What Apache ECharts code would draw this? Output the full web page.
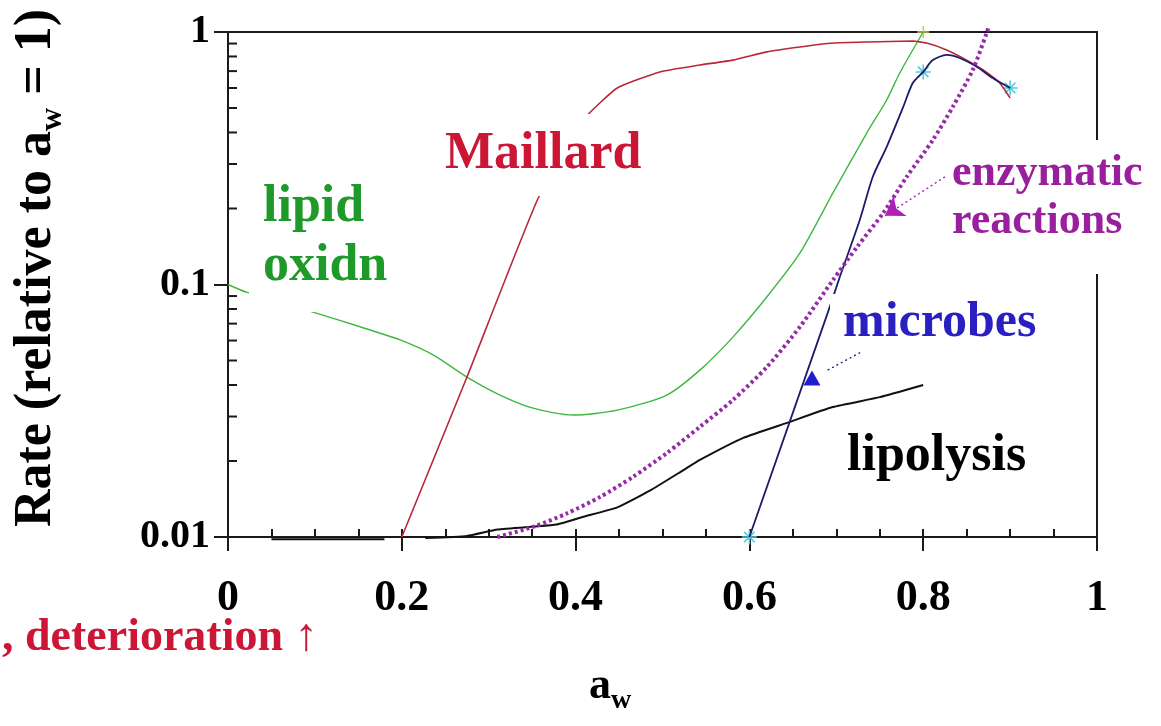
<!DOCTYPE html>
<html><head><meta charset="utf-8">
<script src="https://cdn.jsdelivr.net/npm/echarts@6/dist/echarts.min.js"></script>
<style>html,body{margin:0;padding:0;background:#fff}#c{width:1161px;height:726px}</style>
</head><body><div id="c"></div>
<script>
// ---- data ----
const xTickLabels = ['0', '0.2', '0.4', '0.6', '0.8', '1'];
const yTickLabels = ['0.01', '0.1', '1'];
const yMinorTicks = [0.02, 0.03, 0.04, 0.05, 0.06, 0.07, 0.08, 0.09, 0.2, 0.3, 0.4, 0.5, 0.6, 0.7, 0.8, 0.9];

const maillardX = [0.2, 0.275, 0.357, 0.411, 0.448, 0.497, 0.543, 0.581, 0.620, 0.658, 0.696, 0.735, 0.788, 0.804, 0.827, 0.850, 0.869, 0.888, 0.9];
const maillardY = [0.01, 0.043, 0.22, 0.457, 0.6, 0.695, 0.74, 0.774, 0.834, 0.872, 0.904, 0.913, 0.921, 0.904, 0.849, 0.774, 0.707, 0.628, 0.548];

const lipidX = [0, 0.022, 0.094, 0.152, 0.198, 0.236, 0.275, 0.313, 0.351, 0.397, 0.448, 0.505, 0.543, 0.581, 0.620, 0.658, 0.696, 0.735, 0.758, 0.773, 0.8];
const lipidY = [0.1, 0.093, 0.0785, 0.068, 0.0603, 0.0526, 0.043, 0.0365, 0.0324, 0.0304, 0.0318, 0.0365, 0.0458, 0.0619, 0.0892, 0.133, 0.23, 0.398, 0.538, 0.688, 1.0];

const lipolysisX = [0.05, 0.18, 0.2, 0.227, 0.275, 0.31, 0.352, 0.378, 0.408, 0.448, 0.486, 0.524, 0.543, 0.593, 0.643, 0.696, 0.75, 0.8];
const lipolysisY = [0.0098, 0.0098, null, 0.0099, 0.0101, 0.0107, 0.011, 0.0112, 0.012, 0.0131, 0.0153, 0.0184, 0.0202, 0.0247, 0.0283, 0.0327, 0.0358, 0.04];

const microbesX = [0.6, 0.69, 0.704, 0.727, 0.742, 0.758, 0.777, 0.788, 0.8, 0.811, 0.827, 0.842, 0.862, 0.88, 0.9];
const microbesY = [0.01, 0.077, 0.107, 0.18, 0.267, 0.351, 0.505, 0.628, 0.695, 0.774, 0.811, 0.789, 0.727, 0.657, 0.6];

const enzymeX = [0.31, 0.352, 0.39, 0.428, 0.466, 0.505, 0.543, 0.581, 0.620, 0.658, 0.696, 0.724, 0.754, 0.781, 0.811, 0.834, 0.857, 0.873, 0.875];
const enzymeY = [0.01, 0.011, 0.0124, 0.0144, 0.0173, 0.0215, 0.0273, 0.0349, 0.0471, 0.0679, 0.104, 0.141, 0.192, 0.267, 0.373, 0.505, 0.707, 0.99, 1.04];

const microbeStars = [[0.6, 0.01], [0.8, 0.695], [0.9, 0.6]];
const lipidEnd = [[0.8, 1.0]];
const microbeTriangle = [[0.672, 0.0426]];
const microbePointer = [[0.69, 0.0458], [0.75, 0.0592]];
const enzymePointer = [[0.825, 0.267], [0.756, 0.187]];

// ---- build ----
const zip = (xs, ys) => xs.map((x, i) => [x, ys[i] == null ? '-' : ys[i]]);
const SERIF = "'Liberation Serif', 'DejaVu Serif', serif";
const AX = '#1a1a1a';

const chart = echarts.init(document.getElementById('c'), null, {renderer: 'canvas'});

const lineSeries = (name, xs, ys, color, width, extra) => Object.assign({
  name, type: 'line', data: zip(xs, ys), showSymbol: false, symbol: 'none',
  smooth: 0.25, connectNulls: false, silent: true,
  lineStyle: {color, width}
}, extra || {});

const option = {
  animation: false,
  backgroundColor: '#fff',
  grid: {left: 228, right: 64, top: 32, bottom: 189, show: true, borderColor: AX, borderWidth: 2, backgroundColor: 'transparent'},
  xAxis: [{
    type: 'value', min: 0, max: 1, interval: 0.2, position: 'bottom',
    axisLine: {onZero: false, lineStyle: {color: AX, width: 2}},
    axisTick: {show: true, inside: false, length: 14, lineStyle: {color: AX, width: 2}},
    axisLabel: {color: '#000', fontFamily: SERIF, fontWeight: 'bold', fontSize: 44, margin: 40,
      formatter: (v, i) => xTickLabels[i]},
    splitLine: {show: false}
  }, {
    type: 'value', min: 0, max: 1, interval: 0.05, position: 'bottom',
    axisLine: {show: false, onZero: false},
    axisTick: {show: true, inside: true, length: 8, lineStyle: {color: AX, width: 2}},
    axisLabel: {show: false}, splitLine: {show: false}
  }],
  yAxis: {
    type: 'log', logBase: 10, min: 0.01, max: 1,
    axisLine: {show: true, onZero: false, lineStyle: {color: AX, width: 2}},
    axisTick: {show: true, inside: false, length: 14, lineStyle: {color: AX, width: 2}},
    axisLabel: {color: '#000', fontFamily: SERIF, fontWeight: 'bold', fontSize: 40, margin: 18,
      formatter: (v, i) => yTickLabels[i]},
    splitLine: {show: false}
  },
  series: [
    {
      type: 'custom', silent: true, clip: false,
      data: yMinorTicks.map(v => [0, v]),
      encode: {x: 0, y: 1},
      renderItem: (params, api) => {
        const p = api.coord([0, api.value(1)]);
        return {type: 'line', shape: {x1: p[0], y1: p[1], x2: p[0] + 9, y2: p[1]},
          style: {stroke: AX, lineWidth: 2}};
      }
    },
    lineSeries('lipid oxidation', lipidX, lipidY, '#3fb83f', 1.4),
    lineSeries('Maillard', maillardX, maillardY, '#b8283a', 1.6, {smooth: 0.15}),
    lineSeries('lipolysis', lipolysisX, lipolysisY, '#111', 2, {clip: false, smooth: 0.15}),
    lineSeries('microbes', microbesX, microbesY, '#1c1c6a', 1.8, {
      markLine: {silent: true, symbol: ['none', 'none'], animation: false,
        lineStyle: {type: [2, 3], color: '#1c1c8a', width: 1.3}, label: {show: false},
        data: [[{coord: microbePointer[0]}, {coord: microbePointer[1]}]]}
    }),
    lineSeries('enzymatic reactions', enzymeX, enzymeY, '#9a2ab0', 4, {
      clip: false,
      lineStyle: {color: '#962aa8', width: 4, type: [3, 3]},
      markLine: {silent: true, symbol: ['none', 'arrow'], symbolSize: 18, animation: false,
        lineStyle: {type: [2, 3], color: '#b020b8', width: 1.4}, label: {show: false},
        itemStyle: {color: '#c020c8'},
        data: [[{coord: enzymePointer[0]}, {coord: enzymePointer[1]}]]}
    }),
    {
      type: 'scatter', silent: true, data: microbeTriangle, symbol: 'triangle',
      symbolSize: [17, 15], itemStyle: {color: '#1f1fcc', opacity: 1}
    },
    {
      type: 'scatter', silent: true, clip: false, data: microbeStars,
      symbol: 'path://M10 0L10 20M0 10L20 10M3 3L17 17M3 17L17 3', symbolSize: 15,
      itemStyle: {color: 'rgba(0,0,0,0)', borderColor: '#4cc8d8', borderWidth: 1.5, opacity: 1}
    },
    {
      type: 'scatter', silent: true, clip: false, data: lipidEnd,
      symbol: 'path://M10 0L10 20M0 10L20 10', symbolSize: 12,
      itemStyle: {color: 'rgba(0,0,0,0)', borderColor: '#c8c040', borderWidth: 1.3, opacity: 1}
    }
  ],
  graphic: [
    {type: 'text', z: 100, x: 437, y: 155, style: {
      text: 'Maillard', font: `bold 52px ${SERIF}`, fill: '#cc1636',
      align: 'left', verticalAlign: 'middle', backgroundColor: '#fff', padding: [12, 8, 18, 8]}},
    {type: 'text', z: 100, x: 249, y: 176, style: {
      text: 'lipid\noxidn', font: `bold 52px ${SERIF}`, fill: '#1f9a2a', lineHeight: 59,
      align: 'left', verticalAlign: 'top', backgroundColor: '#fff', padding: [2, 10, 16, 14]}},
    {type: 'text', z: 100, x: 947, y: 140, style: {
      text: 'enzymatic\nreactions', font: `bold 44px ${SERIF}`, fill: '#9a1f9e', lineHeight: 48,
      align: 'left', verticalAlign: 'top', backgroundColor: '#fff', padding: [10, 4, 28, 5]}},
    {type: 'text', z: 100, x: 830, y: 323, style: {
      text: 'microbes', font: `bold 50px ${SERIF}`, fill: '#2a1fc0',
      align: 'left', verticalAlign: 'middle', backgroundColor: '#fff', padding: [6, 6, 2, 13]}},
    {type: 'text', z: 100, x: 847, y: 457, style: {
      text: 'lipolysis', font: `bold 52px ${SERIF}`, fill: '#000',
      align: 'left', verticalAlign: 'middle'}},
    {type: 'text', z: 100, x: 2, y: 638, style: {
      text: ', deterioration \u2191', font: `bold 46px ${SERIF}`, fill: '#cc1636',
      align: 'left', verticalAlign: 'middle'}},
    {type: 'text', z: 100, x: 610, y: 690, style: {
      text: '{m|a}{s|w}', align: 'center', verticalAlign: 'middle',
      rich: {
        m: {font: `bold 44px ${SERIF}`, fill: '#000', verticalAlign: 'top'},
        s: {font: `bold 28px ${SERIF}`, fill: '#000', verticalAlign: 'top', padding: [22, 0, 0, 0]}
      }}},
    {type: 'text', z: 100, x: 40, y: 268, rotation: Math.PI / 2, style: {
      text: '{m|Rate (relative to a}{s|w}{m| = 1)}', align: 'center', verticalAlign: 'middle',
      rich: {
        m: {font: `bold 52px ${SERIF}`, fill: '#000', verticalAlign: 'top'},
        s: {font: `bold 32px ${SERIF}`, fill: '#000', verticalAlign: 'top', padding: [26, 0, 0, 0]}
      }}}
  ]
};
chart.setOption(option);
</script>
</body></html>
